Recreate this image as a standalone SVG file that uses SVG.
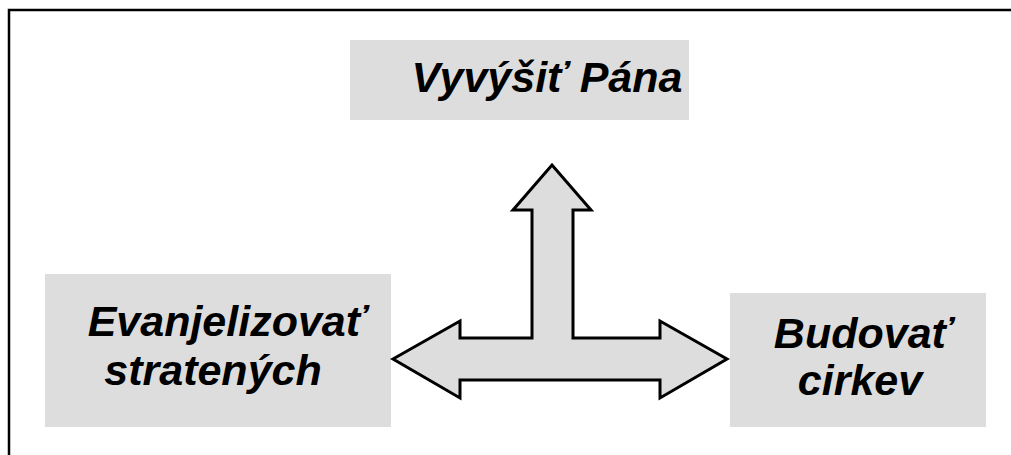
<svg xmlns="http://www.w3.org/2000/svg" width="1011" height="455" viewBox="0 0 1011 455">
<style>
.box{fill:#dddddd;stroke:none}
.lbl{font-family:"Liberation Sans",Arial,sans-serif;font-weight:bold;font-style:italic;font-size:43px;fill:#000;text-anchor:middle}
.arrow{fill:#dddddd;stroke:#000;stroke-width:3;stroke-linejoin:miter}
</style>
<rect x="0" y="0" width="1011" height="455" fill="#fff"/>
<rect x="9" y="10" width="1010" height="460" fill="none" stroke="#000" stroke-width="2.5"/>
<g id="node-top">
<rect class="box" x="350" y="40" width="339" height="80"/>
<text class="lbl" x="547" y="92" font-size="49">Vyvýšiť Pána</text>
</g>
<g id="node-left">
<rect class="box" x="45" y="274" width="346" height="153"/>
<text class="lbl" x="227" y="336">Evanjelizovať</text>
<text class="lbl" x="213" y="385">stratených</text>
</g>
<g id="node-right">
<rect class="box" x="730" y="293" width="256" height="134"/>
<text class="lbl" x="863" y="348">Budovať</text>
<text class="lbl" x="860" y="395">cirkev</text>
</g>
<g id="connectors">
<polygon class="arrow" points="393,359 460,321 460,338 532,338 532,210 513,210 552,165 591,210 573,210 573,338 660,338 660,321 727,359 660,398 660,380 460,380 460,398"/>
</g>
</svg>
